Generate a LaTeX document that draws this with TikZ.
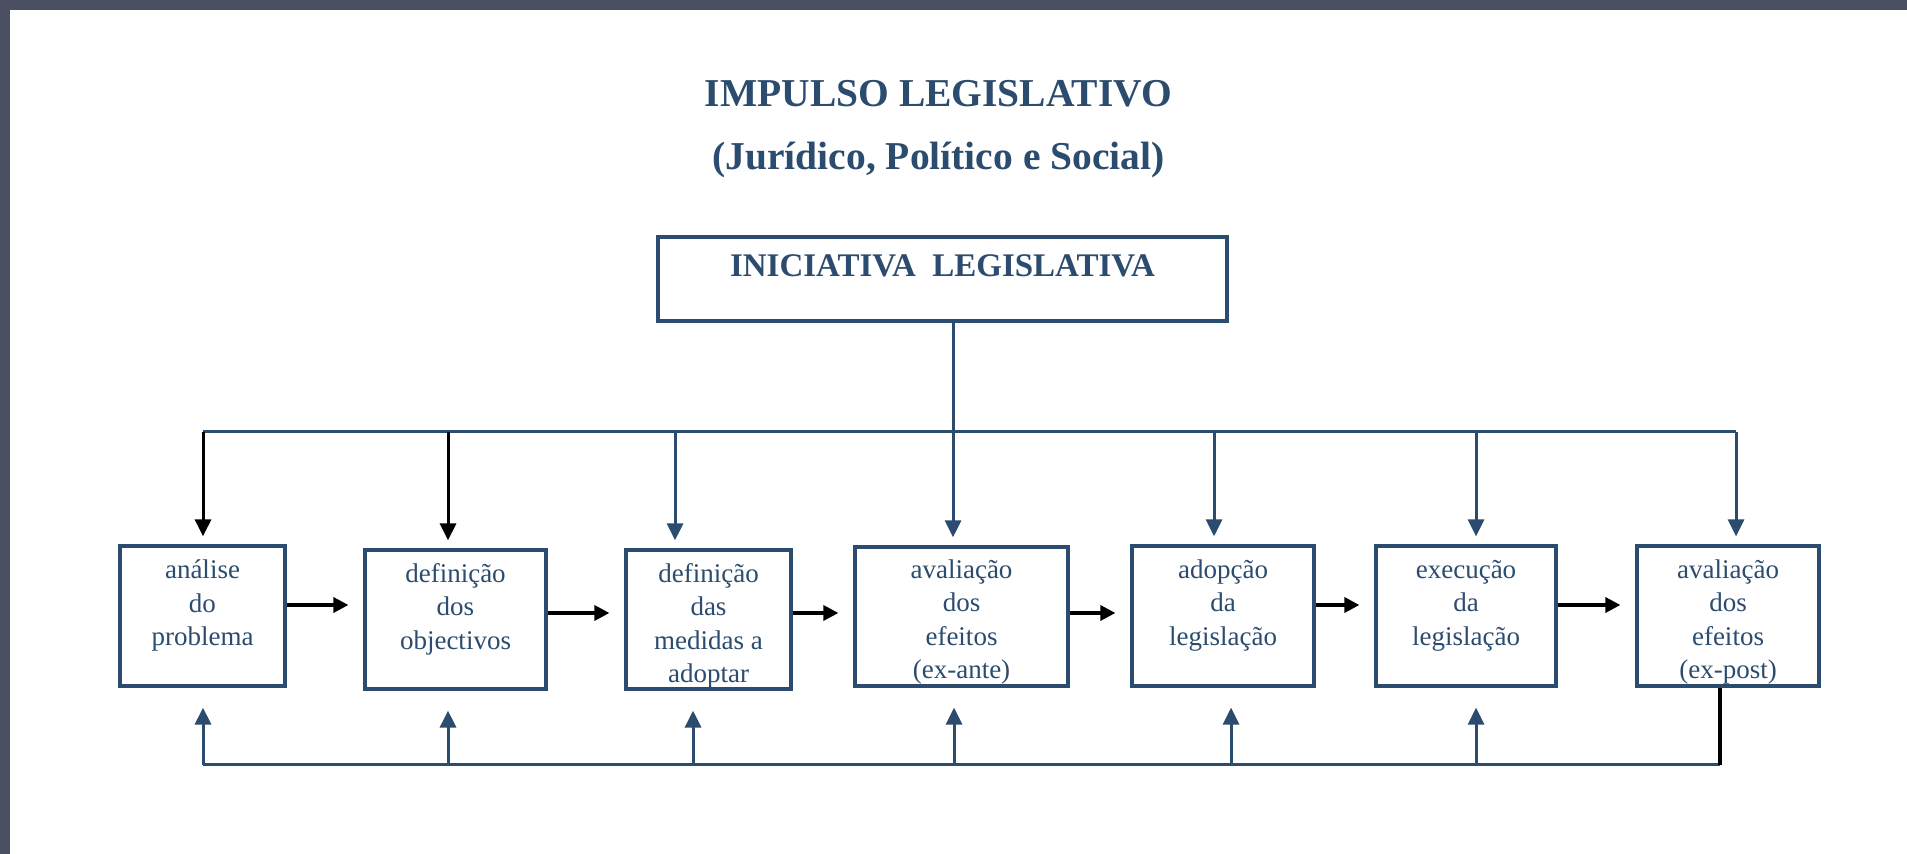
\documentclass[tikz,border=0pt]{standalone}
\usepackage{fontspec}
\setmainfont{Liberation Serif}
\usetikzlibrary{arrows.meta}
\definecolor{navy}{RGB}{43,76,110}
\definecolor{frame}{RGB}{74,80,98}
\begin{document}
\begin{tikzpicture}[x=0.5pt, y=-0.5pt,
  box/.style={draw=navy, line width=1.6pt, inner sep=0pt},
  lbl/.style={anchor=north, inner sep=0pt, align=center, text=navy, font=\fontsize{13.5}{16.75}\selectfont},
  title/.style={anchor=base, inner sep=0pt, text=navy, font=\bfseries\fontsize{19.75}{24}\selectfont},
  bus/.style={draw=navy, line width=1.5pt},
  darr/.style={bus, -{Triangle[length=8.5pt,width=8pt]}, shorten >=4pt},
  uarr/.style={bus, -{Triangle[length=8.5pt,width=8pt]}, shorten >=10pt},
  harr/.style={line width=1.7pt, -{Triangle[length=7.5pt,width=7.5pt]}, shorten >=7.5pt}]
\useasboundingbox (0,0) rectangle (1907,854);
\fill[white] (0,0) rectangle (1907,854);
\fill[frame] (0,0) rectangle (1907,10);
\fill[frame] (0,0) rectangle (10,854);
% titulo
\node[title] (imp) at (938.5,107) {IMPULSO LEGISLATIVO};
\node[title] (jps) at (938.5,170) {(Jurídico, Político e Social)};
\node[box, minimum width=284.5pt, minimum height=42pt, text height=20pt, text depth=22pt, text=navy,
  font=\bfseries\fontsize{16.5}{19}\selectfont] (ini) at (942.5,279) {INICIATIVA~~LEGISLATIVA};
% caixas do processo
\node[box, minimum width=82.5pt, minimum height=70pt] (b1) at (202.5,616) {};
\node[box, minimum width=90.5pt, minimum height=69.5pt] (b2) at (455.5,619.5) {};
\node[box, minimum width=82.5pt, minimum height=69.5pt] (b3) at (708.5,619.5) {};
\node[box, minimum width=106.5pt, minimum height=69.5pt] (b4) at (961.5,616.5) {};
\node[box, minimum width=91pt, minimum height=70pt] (b5) at (1223,616) {};
\node[box, minimum width=90pt, minimum height=70pt] (b6) at (1466,616) {};
\node[box, minimum width=91pt, minimum height=70pt] (b7) at (1728,616) {};
\node[lbl] (t1) at ([yshift=-5.25pt]b1.north) {\strut análise\\do\\problema};
\node[lbl] (t2) at ([yshift=-5pt]b2.north) {\strut definição\\dos\\objectivos};
\node[lbl] (t3) at ([yshift=-5pt]b3.north) {\strut definição\\das\\medidas a\\adoptar};
\node[lbl] (t4) at ([yshift=-4.5pt]b4.north) {\strut avaliação\\dos\\efeitos\\(ex-ante)};
\node[lbl] (t5) at ([yshift=-5pt]b5.north) {\strut adopção\\da\\legislação};
\node[lbl] (t6) at ([yshift=-5pt]b6.north) {\strut execução\\da\\legislação};
\node[lbl] (t7) at ([yshift=-5pt]b7.north) {\strut avaliação\\dos\\efeitos\\(ex-post)};
% barramentos
\coordinate (d1) at (203,432); \coordinate (d2) at (448,432); \coordinate (d3) at (675,432);
\coordinate (d4) at (953,432); \coordinate (d5) at (1214,432); \coordinate (d6) at (1476,432);
\coordinate (d7) at (1736,432);
\coordinate (u1) at (203,765); \coordinate (u2) at (448,765); \coordinate (u3) at (693,765);
\coordinate (u4) at (954,765); \coordinate (u5) at (1231,765); \coordinate (u6) at (1476,765);
\coordinate (u7) at (1720,765);
\draw[bus] (ini.south -| d4) -- (d4);
\draw[bus] (d1) -- (d7);
\draw[darr, draw=black] (d1) -- (d1 |- b1.north);
\draw[darr, draw=black] (d2) -- (d2 |- b2.north);
\draw[darr] (d3) -- (d3 |- b3.north);
\draw[darr] (d4) -- (d4 |- b4.north);
\draw[darr] (d5) -- (d5 |- b5.north);
\draw[darr] (d6) -- (d6 |- b6.north);
\draw[darr] (d7) -- (d7 |- b7.north);
\draw[bus] (u1) -- (u7);
\draw[uarr] (u1) -- (u1 |- b1.south);
\draw[uarr] (u2) -- (u2 |- b2.south);
\draw[uarr] (u3) -- (u3 |- b3.south);
\draw[uarr] (u4) -- (u4 |- b4.south);
\draw[uarr] (u5) -- (u5 |- b5.south);
\draw[uarr] (u6) -- (u6 |- b6.south);
\draw[line width=1.7pt] (u7 |- b7.south) -- (u7);
% sequencia
\draw[harr] ([yshift=5.5pt]b1.east) -- ([yshift=5.5pt]b1.east -| b2.west);
\draw[harr] ([yshift=3.25pt]b2.east) -- ([yshift=3.25pt]b2.east -| b3.west);
\draw[harr] ([yshift=3.25pt]b3.east) -- ([yshift=3.25pt]b3.east -| b4.west);
\draw[harr] ([yshift=1.75pt]b4.east) -- ([yshift=1.75pt]b4.east -| b5.west);
\draw[harr] ([yshift=5.5pt]b5.east) -- ([yshift=5.5pt]b5.east -| b6.west);
\draw[harr] ([yshift=5.5pt]b6.east) -- ([yshift=5.5pt]b6.east -| b7.west);
\end{tikzpicture}
\end{document}
